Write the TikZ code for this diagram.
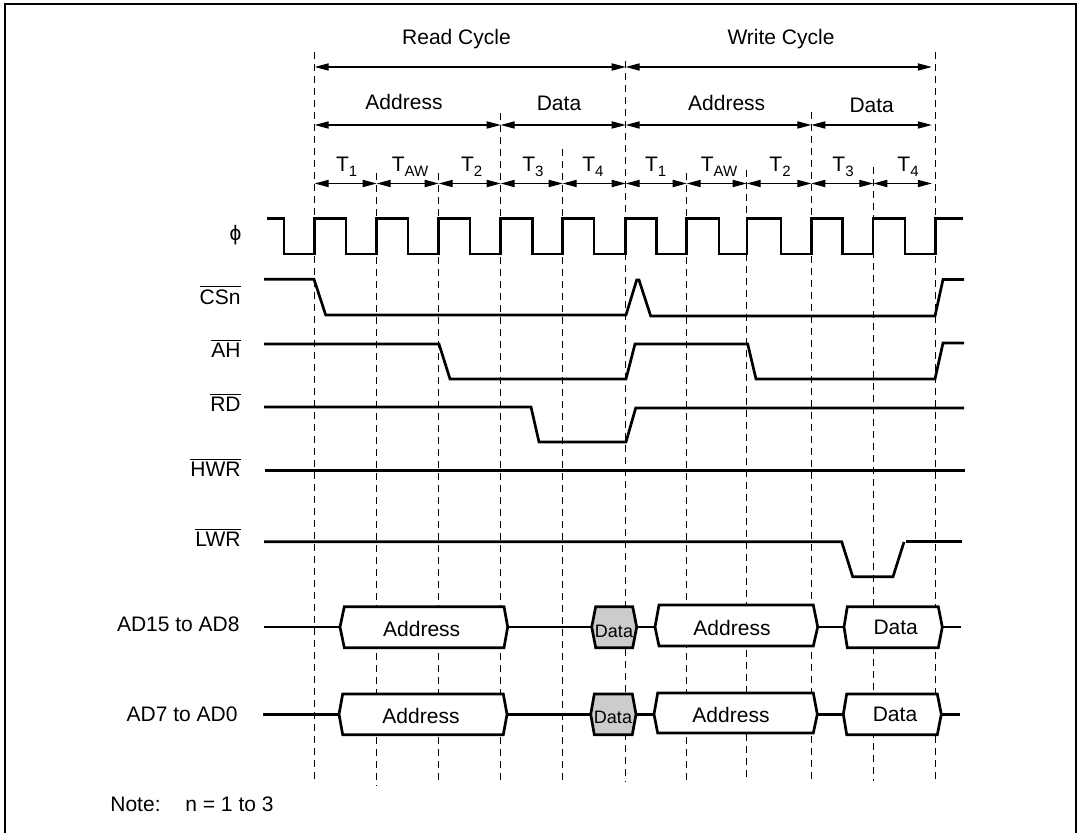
\documentclass[tikz,border=0pt]{standalone}
\usepackage{fontspec}
\usepackage{tikz}
\usepackage{xcolor}
\usetikzlibrary{arrows.meta}
\setmainfont{Liberation Sans}
\newcommand{\tsub}[1]{\raisebox{-2.5pt}{\fontsize{7.5}{9}\selectfont #1}}
\newcommand{\barred}[1]{$\overline{\mbox{#1}}$}
\tikzset{
  guide/.style={line width=0.55pt,dash pattern=on 3.6pt off 2.4pt},
  span/.style={line width=0.55pt,{Triangle[length=7pt,width=3.6pt]}-{Triangle[length=7pt,width=3.6pt]}},
  wave/.style={line width=1.35pt,line join=miter},
  busbox/.style={wave,fill=white},
  busgrey/.style={wave,fill=black!20},
  lab/.style={anchor=base,inner sep=0pt,font=\fontsize{10.5}{12.6}\selectfont},
  siglab/.style={lab,anchor=base east},
  smalllab/.style={lab,font=\fontsize{9}{10.8}\selectfont}
}
\begin{document}
\begin{tikzpicture}[x=0.5pt,y=-0.5pt]
\useasboundingbox (0,0) rectangle (1082,833);
\draw[line width=1pt] (5,833) -- (5,4) -- (1075.7,4) -- (1075.7,833);
% guide tops and feet
\coordinate (gA) at (314.7,52);  \coordinate (gAb) at (314.7,784);
\coordinate (gB) at (376.7,173); \coordinate (gBb) at (376.7,786);
\coordinate (gC) at (438.7,173); \coordinate (gCb) at (438.7,782);
\coordinate (gD) at (500.7,113); \coordinate (gDb) at (500.7,781);
\coordinate (gE) at (562.7,149); \coordinate (gEb) at (562.7,781);
\coordinate (gF) at (625.7,61);  \coordinate (gFb) at (625.7,782);
\coordinate (gG) at (686.7,173); \coordinate (gGb) at (686.7,780);
\coordinate (gH) at (746.7,170); \coordinate (gHb) at (746.7,780);
\coordinate (gI) at (811.3,112); \coordinate (gIb) at (811.3,780);
\coordinate (gJ) at (873.3,167); \coordinate (gJb) at (873.3,781);
\coordinate (gK) at (935.2,52);  \coordinate (gKb) at (935.2,780);
\draw[guide] (gA) -- (gAb);
\draw[guide] (gB) -- (gBb);
\draw[guide] (gC) -- (gCb);
\draw[guide] (gD) -- (gDb);
\draw[guide] (gE) -- (gEb);
\draw[guide] (gF) -- (gFb);
\draw[guide] (gG) -- (gGb);
\draw[guide] (gH) -- (gHb);
\draw[guide] (gI) -- (gIb);
\draw[guide] (gJ) -- (gJb);
\draw[guide] (gK) -- (gKb);
% spans
\coordinate (rowa) at (0,67);
\coordinate (rowb) at (0,125);
\coordinate (rowc) at (0,183.5);
\draw[span] (gA|-rowa) -- (gF|-rowa);
\draw[span] (gF|-rowa) -- ([xshift=-1.7pt]gK|-rowa);
\draw[span] (gA|-rowb) -- (gD|-rowb);
\draw[span] (gD|-rowb) -- (gF|-rowb);
\draw[span] (gF|-rowb) -- (gI|-rowb);
\draw[span] (gI|-rowb) -- ([xshift=-1.7pt]gK|-rowb);
\draw[span] (gA|-rowc) -- (gB|-rowc);
\draw[span] (gB|-rowc) -- (gC|-rowc);
\draw[span] (gC|-rowc) -- (gD|-rowc);
\draw[span] (gD|-rowc) -- (gE|-rowc);
\draw[span] (gE|-rowc) -- (gF|-rowc);
\draw[span] (gF|-rowc) -- (gG|-rowc);
\draw[span] (gG|-rowc) -- (gH|-rowc);
\draw[span] (gH|-rowc) -- (gI|-rowc);
\draw[span] (gI|-rowc) -- (gJ|-rowc);
\draw[span] (gJ|-rowc) -- ([xshift=-1.7pt]gK|-rowc);
\node[lab] (readcycle) at (456.5,45) {Read Cycle};
\node[lab] (writecycle) at (781,45) {Write Cycle};
\node[lab] (addrr) at (404,110) {Address};
\node[lab] (datar) at (559,111) {Data};
\node[lab] (addrw) at (726.7,111) {Address};
\node[lab] (dataw) at (871.7,112.7) {Data};
\node[lab] (rt1) at (346.7,172) {T\tsub{1}};
\node[lab] (rtaw) at (410,172) {T\tsub{AW}};
\node[lab] (rt2) at (471.7,172) {T\tsub{2}};
\node[lab] (rt3) at (533,172) {T\tsub{3}};
\node[lab] (rt4) at (593,172) {T\tsub{4}};
\node[lab] (wt1) at (655.7,172) {T\tsub{1}};
\node[lab] (wtaw) at (719,172) {T\tsub{AW}};
\node[lab] (wt2) at (780,172) {T\tsub{2}};
\node[lab] (wt3) at (843,172) {T\tsub{3}};
\node[lab] (wt4) at (908,172) {T\tsub{4}};
% signal names
\node[lab] (phi) at (235.5,241) {ϕ};
\node[siglab] (csn) at (241,304.3) {\barred{CSn}};
\node[siglab] (ah) at (241,358) {\barred{AH}};
\node[siglab] (rd) at (241,411.7) {\barred{RD}};
\node[siglab] (hwr) at (241,476.7) {\barred{HWR}};
\node[siglab] (lwr) at (241,547) {\barred{LWR}};
\node[siglab] (adhi) at (240,631.7) {AD15 to AD8};
\node[siglab] (adlo) at (238,721.7) {AD7 to AD0};
\node[lab,anchor=base west] (note) at (110,811.7) {Note:};
\node[lab,anchor=base west] (noten) at (185,811.7) {n = 1 to 3};
% waveforms
\draw[wave] (266.7,218.5) -- (284,218.5) -- (284,254) -- (314.7,254) -- (314.7,218.5)
  -- (346,218.5) -- (346,254) -- (376.7,254) -- (376.7,218.5)
  -- (408,218.5) -- (408,254) -- (438.7,254) -- (438.7,218.5)
  -- (470,218.5) -- (470,254) -- (500.7,254) -- (500.7,218.5)
  -- (532.7,218.5) -- (532.7,254) -- (562.7,254) -- (562.7,218.5)
  -- (594,218.5) -- (594,254) -- (625.7,254) -- (625.7,218.5)
  -- (656.7,218.5) -- (656.7,254) -- (686.7,254) -- (686.7,218.5)
  -- (719,218.5) -- (719,254) -- (747,254) -- (747,218.5)
  -- (781,218.5) -- (781,254) -- (811.3,254) -- (811.3,218.5)
  -- (842.7,218.5) -- (842.7,254) -- (873,254) -- (873,218.5)
  -- (905,218.5) -- (905,254) -- (935.3,254) -- (935.3,218.5) -- (963,218.5);
\draw[wave] (264,279.3) -- (314,279.3) -- (325.7,315) -- (626,315) -- (636.7,280) -- (639,280)
  -- (650.7,316) -- (935,316) -- (943,279.5) -- (964,279.5);
\draw[wave] (264,344) -- (439,344) -- (450,379) -- (626,379) -- (635,344) -- (747.7,344)
  -- (756,379) -- (935,379) -- (943,343) -- (964,343);
\draw[wave] (264,407) -- (531,407) -- (539,442) -- (626,442) -- (635.7,408) -- (964,408);
\draw[wave] (265,470.7) -- (965,470.7);
\draw[wave] (264,541.7) -- (841.7,541.7) -- (852.7,576.7) -- (893,576.7) -- (904,542);
\draw[wave] (906,541.7) -- (962,541.7);
% bus AD15 to AD8
\draw[wave] (264,627) -- (340,627);
\draw[busbox] (340,627) -- (344.3,606.7) -- (504,606.7) -- (507.7,627) -- (504,647.7) -- (344.3,647.7) -- cycle;
\draw[wave] (507.7,627) -- (591.7,627);
\draw[busgrey] (591.7,627) -- (595.7,606.7) -- (632.7,606.7) -- (636.7,627) -- (632.7,647.7) -- (595.7,647.7) -- cycle;
\draw[wave] (636.7,627) -- (655,627);
\draw[busbox] (655,627) -- (659,605) -- (813.3,605) -- (817.7,627) -- (813.3,646) -- (659,646) -- cycle;
\draw[wave] (817.7,627) -- (844,627);
\draw[busbox] (844,627) -- (847.3,606.7) -- (938.3,606.7) -- (942.3,627) -- (938.3,647.7) -- (847.3,647.7) -- cycle;
\draw[wave] (942.3,627) -- (961,627);
% bus AD7 to AD0
\draw[wave] (263,714.3) -- (339,714.3);
\draw[busbox] (339,714.3) -- (342.7,694) -- (503.3,694) -- (507,714.3) -- (503.3,734.7) -- (342.7,734.7) -- cycle;
\draw[wave] (507,714.3) -- (590.7,714.3);
\draw[busgrey] (590.7,714.3) -- (594.3,694) -- (632.3,694) -- (636,714.3) -- (632.3,734.7) -- (594.3,734.7) -- cycle;
\draw[wave] (636,714.3) -- (654,714.3);
\draw[busbox] (654,714.3) -- (657.7,693) -- (813.3,693) -- (817.3,714.3) -- (813.3,733) -- (657.7,733) -- cycle;
\draw[wave] (817.3,714.3) -- (843.3,714.3);
\draw[busbox] (843.3,714.3) -- (846.7,694) -- (937.3,694) -- (941.3,714.3) -- (937.3,734.7) -- (846.7,734.7) -- cycle;
\draw[wave] (941.3,714.3) -- (960,714.3);
% bus texts
\node[lab] (baddra) at (421.7,636.7) {Address};
\node[smalllab] (bdataa) at (614,637.3) {Data};
\node[lab] (baddrb) at (732,635.7) {Address};
\node[lab] (bdatab) at (895.7,635) {Data};
\node[lab] (baddrc) at (421,724) {Address};
\node[smalllab] (bdatac) at (613,724) {Data};
\node[lab] (baddrd) at (731,722.7) {Address};
\node[lab] (bdatad) at (895,721.7) {Data};
\end{tikzpicture}
\end{document}
